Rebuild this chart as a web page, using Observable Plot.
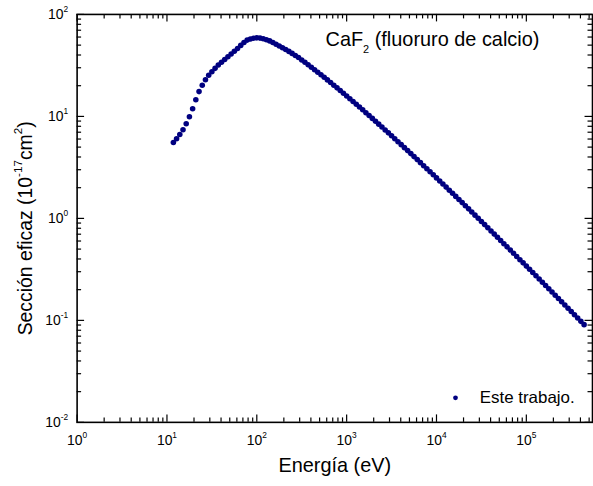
<!DOCTYPE html>
<html><head><meta charset="utf-8">
<script src="https://cdn.jsdelivr.net/npm/d3@7"></script>
<script src="https://cdn.jsdelivr.net/npm/@observablehq/plot@0.6"></script>
<style>
html,body{margin:0;padding:0;background:#fff;}
#wrap{width:593px;height:486px;overflow:hidden;}
</style></head><body><div id="wrap"></div>
<script>
// Energy (eV)
const energy = [
  11.79, 12.80, 13.90, 15.09, 16.38, 17.78, 19.31, 20.96, 22.76, 24.71,
  26.83, 29.13, 31.62, 34.33, 37.28, 40.47, 43.94, 47.71, 51.80, 56.23,
  61.05, 66.29, 71.97, 78.14, 84.83, 92.11, 100, 108.6, 117.9, 128.0,
  139.0, 150.9, 163.8, 177.8, 193.1, 209.6, 227.6, 247.1, 268.3, 291.3,
  316.2, 343.3, 372.8, 404.7, 439.4, 477.1, 518.0, 562.3, 610.5, 662.9,
  719.7, 781.4, 848.3, 921.1, 1000, 1086, 1179, 1280, 1389, 1509,
  1638, 1778, 1931, 2096, 2276, 2471, 2683, 2913, 3162, 3433,
  3728, 4047, 4394, 4771, 5180, 5623, 6105, 6629, 7197, 7814,
  8483, 9211, 10000, 10860, 11790, 12800, 13890, 15090, 16380, 17780,
  19310, 20960, 22760, 24710, 26830, 29130, 31620, 34330, 37280, 40470,
  43940, 47710, 51800, 56230, 61050, 66290, 71970, 78140, 84830, 92110,
  100000, 108600, 117900, 128000, 139000, 150900, 163800, 177800, 193100, 209600,
  227600, 247100, 268300, 291300, 316200, 343300, 372800, 404700, 439400
];
// Cross section (1e-17 cm^2)
const sigma = [
  5.54, 6.04, 6.64, 7.40, 8.46, 9.91, 11.89, 14.56, 17.5, 20.2,
  22.9, 25.3, 27.4, 29.6, 31.9, 34.0, 36.2, 38.5, 40.9, 43.5,
  46.4, 49.7, 53.1, 56.0, 57.5, 58.5, 58.9, 58.6, 57.8, 56.5,
  55.0, 53.0, 51.0, 49.1, 47.2, 45.3, 43.4, 41.5, 39.6, 37.75,
  35.80, 33.92, 32.11, 30.38, 28.72, 27.13, 25.62, 24.18, 22.80, 21.49,
  20.24, 19.06, 17.94, 16.88, 15.87, 14.92, 14.01, 13.16, 12.36, 11.60,
  10.88, 10.20, 9.565, 8.966, 8.400, 7.868, 7.368, 6.898, 6.456, 6.041,
  5.652, 5.285, 4.942, 4.620, 4.318, 4.035, 3.770, 3.521, 3.288, 3.070,
  2.866, 2.675, 2.496, 2.329, 2.173, 2.027, 1.890, 1.763, 1.643, 1.532,
  1.428, 1.331, 1.240, 1.155, 1.076, 1.002, 0.9333, 0.8691, 0.8092, 0.7533,
  0.7012, 0.6527, 0.6074, 0.5652, 0.5259, 0.4893, 0.4552, 0.4234, 0.3938, 0.3663,
  0.3406, 0.3167, 0.2945, 0.2738, 0.2545, 0.2365, 0.2198, 0.2043, 0.1899, 0.1764,
  0.1639, 0.1523, 0.1415, 0.1314, 0.1221, 0.1134, 0.1053, 0.0978, 0.0908
];
const xMajorTicks = [1, 10, 100, 1000, 10000, 100000];
const yMajorTicks = [0.01, 0.1, 1, 10, 100];
const minorMantissas = [2, 3, 4, 5, 6, 7, 8, 9];
const xTitle = "Energía (eV)";
const yTitle = "Sección eficaz (10^{-17}cm^{2})";
const annotation = "CaF_{2} (fluoruro de calcio)";
const legendLabel = "Este trabajo.";

const navy = "#000080";
const data = energy.map((e, i) => ({E: e, s: sigma[i]}));
const xDomain = [1, 5.45e5], yDomain = [0.01, 100];
const xMinor = xMajorTicks.flatMap(d => minorMantissas.map(m => m * d)).filter(v => v <= xDomain[1]);
const yMinor = yMajorTicks.slice(0, -1).flatMap(d => minorMantissas.map(m => m * d));
const expFmt = d => "10^{" + Math.round(Math.log10(d)) + "}";

const W = 596, H = 486, mT = 14, mB = 62, mL = 77, mR = 1;
const fw = W - mL - mR, fh = H - mT - mB;
// inward ticks: tick marks spanning the frame, shortened by insets
const inX = (vals, size, side) => Plot.tickX(vals, {x: d => d, stroke: "black", strokeWidth: 1.2,
  ...(side === "bottom" ? {insetTop: fh - size} : {insetBottom: fh - size})});
const inY = (vals, size, side) => Plot.tickY(vals, {y: d => d, stroke: "black", strokeWidth: 1.2,
  ...(side === "left" ? {insetRight: fw - size} : {insetLeft: fw - size})});

const chart = Plot.plot({
  width: W, height: H,
  marginTop: mT, marginBottom: mB, marginLeft: mL, marginRight: mR,
  style: {fontFamily: "'Liberation Sans', Arial, sans-serif", fontSize: "14px", color: "black", background: "white"},
  x: {type: "log", domain: xDomain},
  y: {type: "log", domain: yDomain},
  marks: [
    Plot.dot(data, {x: "E", y: "s", r: 2.8, fill: navy, stroke: null}),
    inX(xMajorTicks, 7.5, "bottom"), inX(xMinor, 4.5, "bottom"),
    inX(xMajorTicks, 7.5, "top"), inX(xMinor, 4.5, "top"),
    inY(yMajorTicks, 7.5, "left"), inY(yMinor, 4.5, "left"),
    inY(yMajorTicks, 7.5, "right"), inY(yMinor, 4.5, "right"),
    Plot.frame({stroke: "black", strokeWidth: 1.6}),
    Plot.axisX(xMajorTicks, {anchor: "bottom", tickSize: 0, tickPadding: 12.5, tickFormat: expFmt, label: null, fontSize: 14}),
    Plot.axisY(yMajorTicks, {anchor: "left", tickSize: 0, tickPadding: 9, tickFormat: expFmt, label: null, fontSize: 14}),
    Plot.text([xTitle], {frameAnchor: "bottom", dy: 50, textAnchor: "middle", lineAnchor: "bottom", fontSize: 20, fill: "black"}),
    Plot.text([yTitle], {frameAnchor: "left", dx: -45.5, dy: 10, rotate: -90, textAnchor: "middle", lineAnchor: "bottom", fontSize: 19.5, fill: "black"}),
    Plot.text([annotation], {frameAnchor: "top-left", dx: 249.7, dy: 32, textAnchor: "start", lineAnchor: "bottom", fontSize: 20, fill: "black"}),
    Plot.dot([legendLabel], {frameAnchor: "bottom-right", dx: -137.7, dy: -24.7, r: 2.4, fill: navy, stroke: null}),
    Plot.text([legendLabel], {frameAnchor: "bottom-right", dx: -113.3, dy: -25.4, textAnchor: "start", lineAnchor: "middle", fontSize: 17, fill: "black"})
  ]
});

// Turn ^{..} / _{..} markers into real superscript / subscript tspans
const svgNS = "http://www.w3.org/2000/svg";
function richify(el) {
  const s = el.textContent;
  if (!/[\^_]\{/.test(s)) return;
  const base = parseFloat(getComputedStyle(el).fontSize) || 14;
  const parts = [];
  const re = /([\^_])\{([^}]*)\}/g;
  let last = 0, m;
  while ((m = re.exec(s))) {
    if (m.index > last) parts.push({t: s.slice(last, m.index), k: "n"});
    parts.push({t: m[2], k: m[1] === "^" ? "sup" : "sub"});
    last = re.lastIndex;
  }
  if (last < s.length) parts.push({t: s.slice(last), k: "n"});
  el.textContent = "";
  let cur = 0;
  for (const p of parts) {
    const ts = document.createElementNS(svgNS, "tspan");
    let target = 0;
    if (p.k === "sup") { target = -0.5 * base; ts.setAttribute("font-size", (0.6 * base).toFixed(1)); }
    if (p.k === "sub") { target = 0.34 * base; ts.setAttribute("font-size", (0.55 * base).toFixed(1)); }
    const d = target - cur;
    if (d !== 0) ts.setAttribute("dy", d.toFixed(2));
    cur = target;
    ts.textContent = p.t;
    el.appendChild(ts);
  }
}
document.getElementById("wrap").appendChild(chart);
chart.querySelectorAll("text").forEach(richify);
</script>
</body></html>
